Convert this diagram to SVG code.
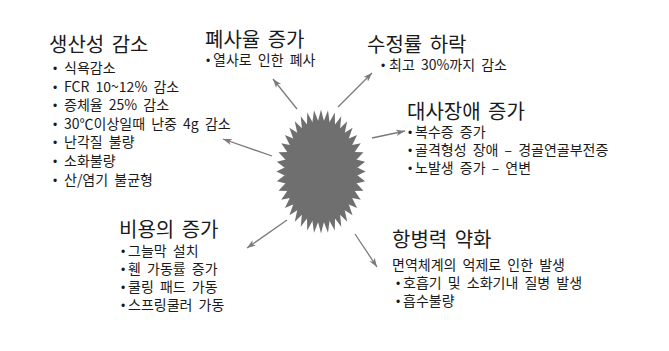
<svg xmlns="http://www.w3.org/2000/svg" xmlns:xlink="http://www.w3.org/1999/xlink" width="669" height="351" viewBox="0 0 669 351">
<defs>
<style>
text{font-family:"Noto Sans CJK KR","Liberation Sans",sans-serif;fill:#1a1a1a}
.t{font-size:20px;word-spacing:3px}
.i{font-size:14px;word-spacing:3px}
.b{font-family:"Liberation Sans",sans-serif;font-size:12px}
.arr{stroke:#7a7a7a;stroke-width:1.3;fill:none;marker-end:url(#ah)}
</style>
<marker id="ah" markerUnits="userSpaceOnUse" markerWidth="10" markerHeight="8" refX="9" refY="4" orient="auto">
<path d="M0,0.8 L9,4 L0,7.2 L2.5,4 Z" fill="#7a7a7a"/>
</marker>
<polygon id="sp" points="-4.6,-49 0,-62 4.6,-49"/>
</defs>
<rect width="669" height="351" fill="#ffffff"/>
<g id="star" transform="translate(321,171.5) scale(0.72,1)" fill="#6f6f6f">
<circle r="50"/>
<use xlink:href="#sp" transform="rotate(0)"/><use xlink:href="#sp" transform="rotate(9)"/><use xlink:href="#sp" transform="rotate(18)"/><use xlink:href="#sp" transform="rotate(27)"/><use xlink:href="#sp" transform="rotate(36)"/><use xlink:href="#sp" transform="rotate(45)"/><use xlink:href="#sp" transform="rotate(54)"/><use xlink:href="#sp" transform="rotate(63)"/><use xlink:href="#sp" transform="rotate(72)"/><use xlink:href="#sp" transform="rotate(81)"/>
<use xlink:href="#sp" transform="rotate(90)"/><use xlink:href="#sp" transform="rotate(99)"/><use xlink:href="#sp" transform="rotate(108)"/><use xlink:href="#sp" transform="rotate(117)"/><use xlink:href="#sp" transform="rotate(126)"/><use xlink:href="#sp" transform="rotate(135)"/><use xlink:href="#sp" transform="rotate(144)"/><use xlink:href="#sp" transform="rotate(153)"/><use xlink:href="#sp" transform="rotate(162)"/><use xlink:href="#sp" transform="rotate(171)"/>
<use xlink:href="#sp" transform="rotate(180)"/><use xlink:href="#sp" transform="rotate(189)"/><use xlink:href="#sp" transform="rotate(198)"/><use xlink:href="#sp" transform="rotate(207)"/><use xlink:href="#sp" transform="rotate(216)"/><use xlink:href="#sp" transform="rotate(225)"/><use xlink:href="#sp" transform="rotate(234)"/><use xlink:href="#sp" transform="rotate(243)"/><use xlink:href="#sp" transform="rotate(252)"/><use xlink:href="#sp" transform="rotate(261)"/>
<use xlink:href="#sp" transform="rotate(270)"/><use xlink:href="#sp" transform="rotate(279)"/><use xlink:href="#sp" transform="rotate(288)"/><use xlink:href="#sp" transform="rotate(297)"/><use xlink:href="#sp" transform="rotate(306)"/><use xlink:href="#sp" transform="rotate(315)"/><use xlink:href="#sp" transform="rotate(324)"/><use xlink:href="#sp" transform="rotate(333)"/><use xlink:href="#sp" transform="rotate(342)"/><use xlink:href="#sp" transform="rotate(351)"/>
</g>
<g id="connectors">
<line class="arr" x1="272" y1="156" x2="223" y2="139"/>
<line class="arr" x1="297" y1="109" x2="273" y2="79"/>
<line class="arr" x1="338" y1="107" x2="372" y2="73"/>
<line class="arr" x1="372" y1="138" x2="405" y2="131"/>
<line class="arr" x1="287" y1="220" x2="247" y2="248"/>
<line class="arr" x1="355" y1="234" x2="377" y2="267"/>
</g>
<g id="production">
<text class="t" x="49" y="52">생산성 감소</text>
<text class="i" y="73"><tspan class="b" x="53">•</tspan><tspan x="64">식욕감소</tspan></text>
<text class="i" y="92"><tspan class="b" x="53">•</tspan><tspan x="64">FCR 10~12% 감소</tspan></text>
<text class="i" y="110"><tspan class="b" x="53">•</tspan><tspan x="64">증체율 25% 감소</tspan></text>
<text class="i" y="129"><tspan class="b" x="53">•</tspan><tspan x="64">30℃이상일때 난중 4g 감소</tspan></text>
<text class="i" y="147"><tspan class="b" x="53">•</tspan><tspan x="64">난각질 불량</tspan></text>
<text class="i" y="166"><tspan class="b" x="53">•</tspan><tspan x="64">소화불량</tspan></text>
<text class="i" y="185"><tspan class="b" x="53">•</tspan><tspan x="64">산/염기 불균형</tspan></text>
</g>
<g id="mortality">
<text class="t" x="205" y="47">폐사율 증가</text>
<text class="i" y="65"><tspan class="b" x="206">•</tspan><tspan x="213">열사로 인한 폐사</tspan></text>
</g>
<g id="fertility">
<text class="t" x="367" y="52">수정률 하락</text>
<text class="i" y="70"><tspan class="b" x="381">•</tspan><tspan x="389">최고 30%까지 감소</tspan></text>
</g>
<g id="metabolic">
<text class="t" x="407" y="119">대사장애 증가</text>
<text class="i" y="137"><tspan class="b" x="408">•</tspan><tspan x="415">복수증 증가</tspan></text>
<text class="i" y="155"><tspan class="b" x="408">•</tspan><tspan x="415">골격형성 장애 – 경골연골부전증</tspan></text>
<text class="i" y="173"><tspan class="b" x="408">•</tspan><tspan x="415">노발생 증가 – 연변</tspan></text>
</g>
<g id="cost">
<text class="t" x="119" y="237">비용의 증가</text>
<text class="i" y="256"><tspan class="b" x="121">•</tspan><tspan x="128">그늘막 설치</tspan></text>
<text class="i" y="274"><tspan class="b" x="121">•</tspan><tspan x="128">휀 가동률 증가</tspan></text>
<text class="i" y="292"><tspan class="b" x="121">•</tspan><tspan x="128">쿨링 패드 가동</tspan></text>
<text class="i" y="310"><tspan class="b" x="121">•</tspan><tspan x="128">스프링쿨러 가동</tspan></text>
</g>
<g id="immunity">
<text class="t" x="392" y="247">항병력 약화</text>
<text class="i" x="392" y="270">면역체계의 억제로 인한 발생</text>
<text class="i" y="288"><tspan class="b" x="396">•</tspan><tspan x="403">호흡기 및 소화기내 질병 발생</tspan></text>
<text class="i" y="306"><tspan class="b" x="396">•</tspan><tspan x="403">흡수불량</tspan></text>
</g>
</svg>
